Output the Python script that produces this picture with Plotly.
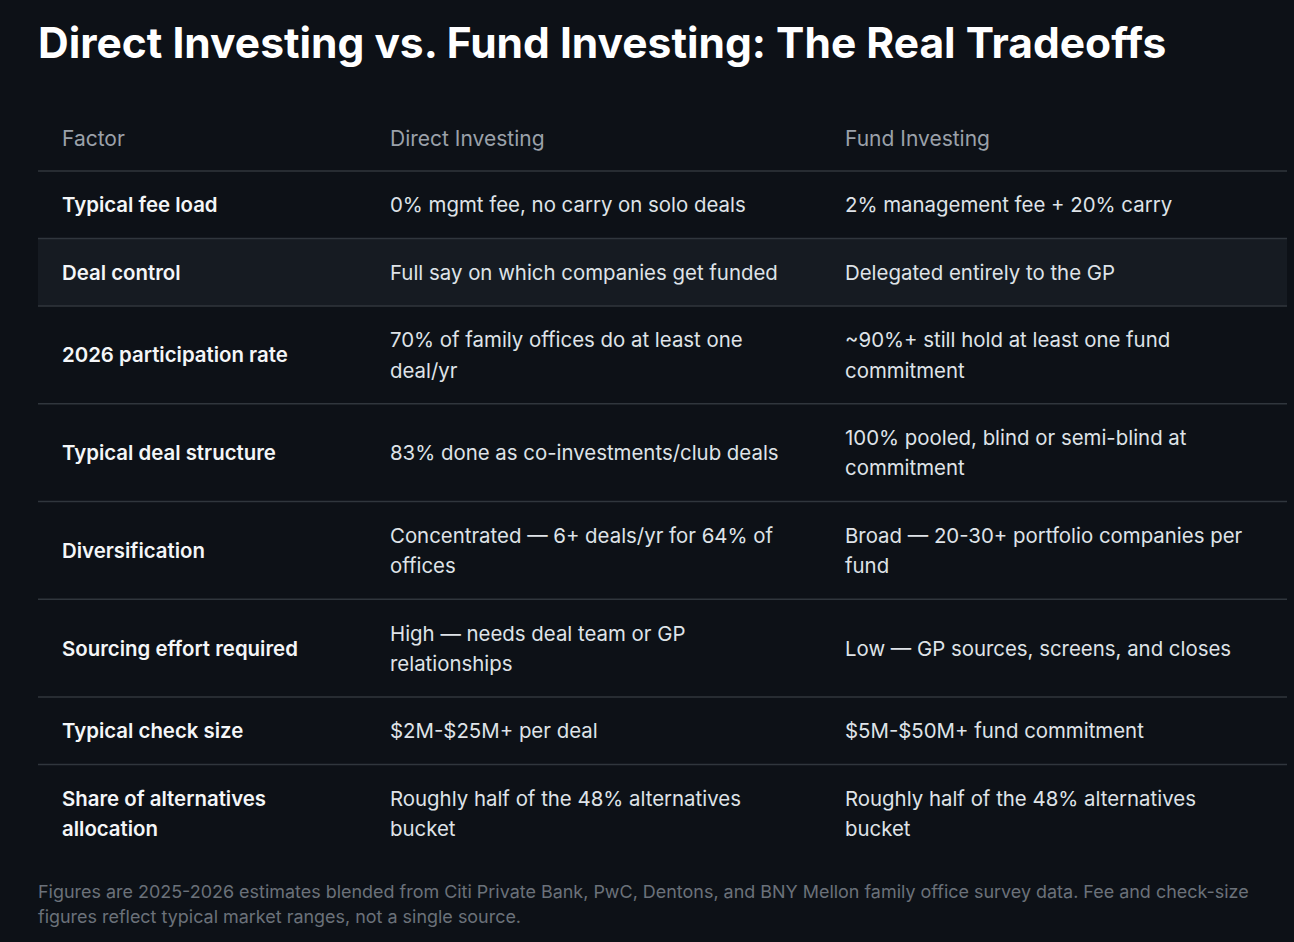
import plotly.graph_objects as go

# ---------------- data ----------------
title = "Direct Investing vs. Fund Investing: The Real Tradeoffs"
headers = ["Factor", "Direct Investing", "Fund Investing"]
factors = [
    ["Typical fee load"],
    ["Deal control"],
    ["2026 participation rate"],
    ["Typical deal structure"],
    ["Diversification"],
    ["Sourcing effort required"],
    ["Typical check size"],
    ["Share of alternatives", "allocation"],
]
direct = [
    ["0% mgmt fee, no carry on solo deals"],
    ["Full say on which companies get funded"],
    ["70% of family offices do at least one", "deal/yr"],
    ["83% done as co-investments/club deals"],
    ["Concentrated \u2014 6+ deals/yr for 64% of", "offices"],
    ["High \u2014 needs deal team or GP", "relationships"],
    ["$2M-$25M+ per deal"],
    ["Roughly half of the 48% alternatives", "bucket"],
]
fund = [
    ["2% management fee + 20% carry"],
    ["Delegated entirely to the GP"],
    ["~90%+ still hold at least one fund", "commitment"],
    ["100% pooled, blind or semi-blind at", "commitment"],
    ["Broad \u2014 20-30+ portfolio companies per", "fund"],
    ["Low \u2014 GP sources, screens, and closes"],
    ["$5M-$50M+ fund commitment"],
    ["Roughly half of the 48% alternatives", "bucket"],
]
footnote = [
    "Figures are 2025-2026 estimates blended from Citi Private Bank, PwC, Dentons, and BNY Mellon family office survey data. Fee and check-size",
    "figures reflect typical market ranges, not a single source.",
]

# ---------------- layout / style ----------------
W, H = 1294, 942
BG = "#0d1117"
BAND = "#161b22"
RULE = "#30363d"
HEAD_C = "#9ba1aa"
FACTOR_C = "#f4f6f8"
CELL_C = "#dfe3e8"
NOTE_C = "#6b717a"
FONT = "Inter"
COL_X = [62, 390, 845]
TABLE_L, TABLE_R = 38, 1287
HEADER_Y = 138
BODY_TOP = 171
ROW_PAD, LINE_H = 37.25, 30.25
HIGHLIGHT_ROW = 1
CELL_SIZE = 20.4
HEAD_SIZE = 21
TITLE_SIZE = 42.5
NOTE_SIZE = 17.95

fig = go.Figure()
annotations = []
shapes = []

def add_text(x, y, text, size, color, weight=400):
    annotations.append(dict(
        x=x, y=y, xref="x", yref="y", text=text, showarrow=False,
        xanchor="left", yanchor="middle", align="left", xshift=-2,
        font=dict(family=FONT, size=size, color=color, weight=weight),
    ))

# title
add_text(38, 42, title, TITLE_SIZE, "#ffffff", 700)

# header
for x, h in zip(COL_X, headers):
    add_text(x, HEADER_Y, h, HEAD_SIZE, HEAD_C, 400)

# body
y = BODY_TOP
shapes.append(dict(type="line", xref="x", yref="y", x0=TABLE_L, x1=TABLE_R, y0=y, y1=y,
                   line=dict(color=RULE, width=1.5)))
n = len(factors)
for i in range(n):
    cols = [factors[i], direct[i], fund[i]]
    nl = max(len(c) for c in cols)
    h = ROW_PAD + LINE_H * nl
    if i == HIGHLIGHT_ROW:
        shapes.append(dict(type="rect", xref="x", yref="y", x0=TABLE_L, x1=TABLE_R,
                           y0=y, y1=y + h, fillcolor=BAND, line=dict(width=0), layer="below"))
    cy = y + h / 2
    for j, (x, lines) in enumerate(zip(COL_X, cols)):
        k = len(lines)
        for li, line in enumerate(lines):
            ly = cy + (li - (k - 1) / 2) * LINE_H
            if j == 0:
                add_text(x, ly, line, CELL_SIZE, FACTOR_C, 600)
            else:
                add_text(x, ly, line, CELL_SIZE, CELL_C, 400)
    y += h
    if i < n - 1:
        shapes.append(dict(type="line", xref="x", yref="y", x0=TABLE_L, x1=TABLE_R, y0=y, y1=y,
                           line=dict(color=RULE, width=1.5)))

# footnote
for k, line in enumerate(footnote):
    add_text(38, 891 + k * 25, line, NOTE_SIZE, NOTE_C, 400)

fig.update_layout(
    width=W, height=H,
    margin=dict(l=0, r=0, t=0, b=0),
    paper_bgcolor=BG, plot_bgcolor=BG,
    xaxis=dict(range=[0, W], visible=False, fixedrange=True),
    yaxis=dict(range=[H, 0], visible=False, fixedrange=True),
    annotations=annotations, shapes=shapes,
    showlegend=False,
)
fig.write_html(
    "out.html",
    config={"displayModeBar": False},
    post_script="document.body.style.margin='0';document.body.style.background='#0d1117';",
)
